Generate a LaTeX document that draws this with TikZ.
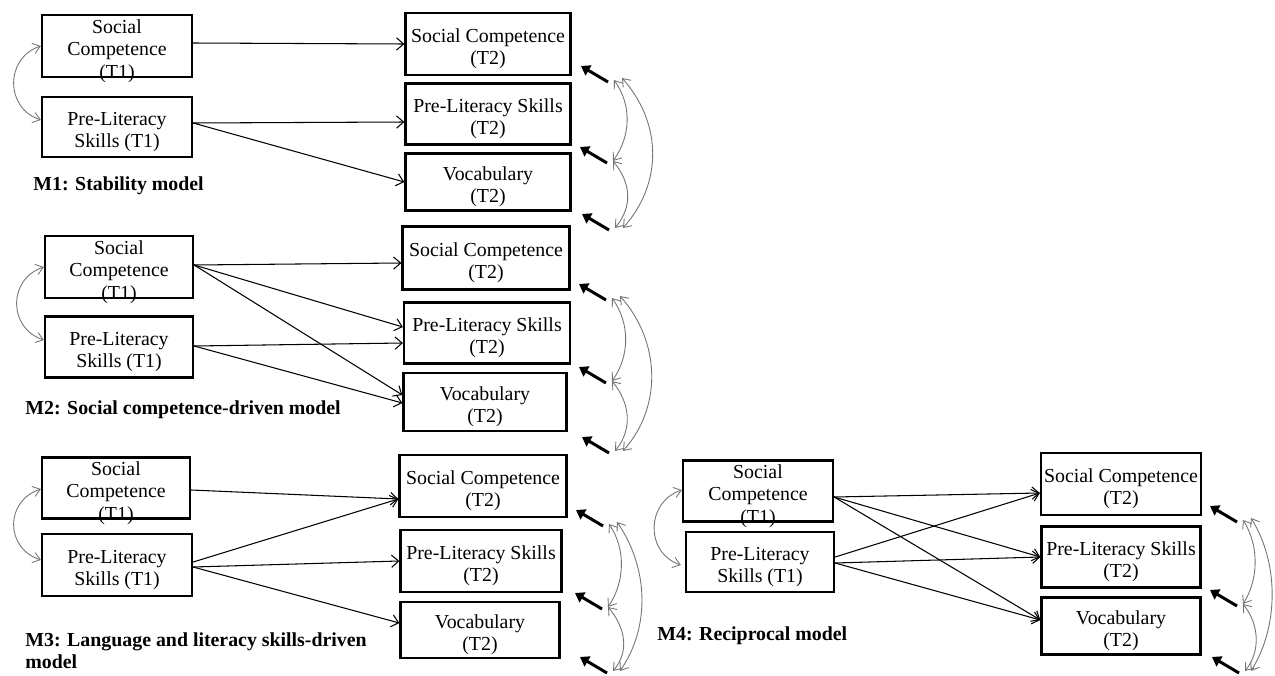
\documentclass[tikz,border=0pt]{standalone}
\usepackage{fontspec}
\setmainfont{Liberation Serif}
\usetikzlibrary{arrows.meta,calc}
\tikzset{txt/.style={align=center, inner sep=0pt, yshift=-0.1cm, font=\fontsize{11.3}{12.7}\selectfont},
  var/.style n args={3}{draw, line width=1.3pt, inner sep=0pt, minimum width=#1*0.02cm, minimum height=#2*0.02cm, label={[txt]center:#3}},
  eff/.style={line width=0.6pt, -{Straight Barb[length=4pt,width=7pt]}},
  cov/.style={black!55, line width=0.5pt, {Straight Barb[length=4pt,width=6pt]}-{Straight Barb[length=4pt,width=6pt]}},
  res/.style={line width=1.7pt, -{Triangle[length=5pt,width=6.5pt]}},
  model/.style={anchor=west, inner sep=0pt, align=left, font=\bfseries\fontsize{11.3}{12.5}\selectfont}}
\begin{document}
\begin{tikzpicture}[x=0.02cm, y=-0.02cm]
   \useasboundingbox (0,0) rectangle (1275,676);
   \begin{scope}
    \node[var={150}{62}{Social\\Competence\\(T1)}] (m1sc1) at (117,46) {};
    \node[var={150}{60}{Pre-Literacy\\Skills (T1)}] (m1pl1) at (117,127) {};
    \node[var={165}{62}{Social Competence\\(T2)}] (m1sc2) at (488,44) {};
    \node[var={165}{61}{Pre-Literacy Skills\\(T2)}] (m1pl2) at (488,114) {};
    \node[var={165}{57}{Vocabulary\\(T2)}] (m1vo2) at (488,182) {};
    \node[model] (m1) at (33,186) {M1: Stability model};
    \draw[eff] ($(m1sc1.east)+(0,-3)$) -- (m1sc2.west);
    \draw[eff] ($(m1pl1.east)+(0,-4)$) -- ($(m1pl2.west)+(0,8)$);
    \draw[eff] ($(m1pl1.east)+(0,-4)$) -- (m1vo2.west);
    \draw[cov] (m1sc1.west) .. controls +(-36,12) and +(-36,-12) .. ($(m1pl1.west)+(0,-7)$);
    \coordinate (m1e1) at (614,80);
    \coordinate (m1e2) at (613,161);
    \coordinate (m1e3) at (615,228);
    \draw[res] ($(m1e1)+(-6,2)$) -- +(-27,-16);
    \draw[res] ($(m1e2)+(-6,2)$) -- +(-27,-16);
    \draw[res] ($(m1e3)+(-6,2)$) -- +(-27,-16);
    \draw[cov] (m1e1) .. controls +(18,25) and +(18,-25) .. (m1e2);
    \draw[cov] (m1e2) .. controls +(18,22) and +(18,-22) .. (m1e3);
    \draw[cov] ($(m1e1)+(8,-2)$) .. controls +(40,45) and +(40,-45) .. ($(m1e3)+(8,0)$);
   \end{scope}
   \begin{scope}
    \node[var={148}{62}{Social\\Competence\\(T1)}] (m2sc1) at (119,267) {};
    \node[var={148}{61}{Pre-Literacy\\Skills (T1)}] (m2pl1) at (119,347) {};
    \node[var={167}{63}{Social Competence\\(T2)}] (m2sc2) at (486,258) {};
    \node[var={166}{61}{Pre-Literacy Skills\\(T2)}] (m2pl2) at (487,333) {};
    \node[var={163}{58}{Vocabulary\\(T2)}] (m2vo2) at (485,402) {};
    \node[model] (m2) at (25,410) {M2: Social competence-driven model};
    \draw[eff] ($(m2sc1.east)+(0,-2)$) -- ($(m2sc2.west)+(0,5)$);
    \draw[eff] ($(m2sc1.east)+(0,-2)$) -- ($(m2pl2.west)+(0,-6)$);
    \draw[eff] ($(m2sc1.east)+(0,-2)$) -- ($(m2vo2.west)+(0,-7)$);
    \draw[eff] ($(m2pl1.east)+(0,-1)$) -- ($(m2pl2.west)+(0,10)$);
    \draw[eff] ($(m2pl1.east)+(0,-1)$) -- ($(m2vo2.west)+(0,1)$);
    \draw[cov] (m2sc1.west) .. controls +(-36,12) and +(-36,-12) .. ($(m2pl1.west)+(0,-7)$);
    \coordinate (m2e1) at (612,298);
    \coordinate (m2e2) at (612,381);
    \coordinate (m2e3) at (615,451);
    \draw[res] ($(m2e1)+(-6,2)$) -- +(-27,-16);
    \draw[res] ($(m2e2)+(-6,2)$) -- +(-27,-16);
    \draw[res] ($(m2e3)+(-6,2)$) -- +(-27,-16);
    \draw[cov] (m2e1) .. controls +(18,25) and +(18,-25) .. (m2e2);
    \draw[cov] (m2e2) .. controls +(18,22) and +(18,-22) .. (m2e3);
    \draw[cov] ($(m2e1)+(8,-2)$) .. controls +(40,45) and +(40,-45) .. ($(m2e3)+(8,0)$);
   \end{scope}
   \begin{scope}
    \node[var={148}{61}{Social\\Competence\\(T1)}] (m3sc1) at (116,488) {};
    \node[var={150}{62}{Pre-Literacy\\Skills (T1)}] (m3pl1) at (117,565) {};
    \node[var={167}{62}{Social Competence\\(T2)}] (m3sc2) at (483,486) {};
    \node[var={161}{62}{Pre-Literacy Skills\\(T2)}] (m3pl2) at (481,561) {};
    \node[var={159}{56}{Vocabulary\\(T2)}] (m3vo2) at (480,630) {};
    \node[model] (m3) at (25,651) {M3: Language and literacy skills-driven\\model};
    \draw[eff] ($(m3sc1.east)+(0,2)$) -- ($(m3sc2.west)+(0,13)$);
    \draw[eff] ($(m3pl1.east)+(0,-3)$) -- ($(m3sc2.west)+(0,13)$);
    \draw[eff] ($(m3pl1.east)+(0,2)$) -- (m3pl2.west);
    \draw[eff] ($(m3pl1.east)+(0,2)$) -- ($(m3vo2.west)+(0,-7)$);
    \draw[cov] ($(m3sc1.west)+(0,1)$) .. controls +(-36,12) and +(-36,-12) .. ($(m3pl1.west)+(0,-5)$);
    \coordinate (m3e1) at (609,524);
    \coordinate (m3e2) at (608,607);
    \coordinate (m3e3) at (613,671);
    \draw[res] ($(m3e1)+(-6,2)$) -- +(-27,-16);
    \draw[res] ($(m3e2)+(-6,2)$) -- +(-27,-16);
    \draw[res] ($(m3e3)+(-6,2)$) -- +(-27,-16);
    \draw[cov] (m3e1) .. controls +(17,25) and +(17,-25) .. (m3e2);
    \draw[cov] (m3e2) .. controls +(17,20) and +(17,-20) .. (m3e3);
    \draw[cov] ($(m3e1)+(8,-2)$) .. controls +(31,45) and +(31,-45) .. ($(m3e3)+(7,0)$);
   \end{scope}
   \begin{scope}
    \node[var={150}{61}{Social\\Competence\\(T1)}] (m4sc1) at (758,491) {};
    \node[var={148}{60}{Pre-Literacy\\Skills (T1)}] (m4pl1) at (760,562) {};
    \node[var={160}{62}{Social Competence\\(T2)}] (m4sc2) at (1121,484) {};
    \node[var={159}{61}{Pre-Literacy Skills\\(T2)}] (m4pl2) at (1121,557) {};
    \node[var={159}{57}{Vocabulary\\(T2)}] (m4vo2) at (1121,626) {};
    \node[model] (m4) at (657,636) {M4: Reciprocal model};
    \draw[eff] ($(m4sc1.east)+(0,6)$) -- ($(m4sc2.west)+(0,9)$);
    \draw[eff] ($(m4sc1.east)+(0,6)$) -- (m4pl2.west);
    \draw[eff] ($(m4sc1.east)+(0,6)$) -- ($(m4vo2.west)+(0,-6)$);
    \draw[eff] ($(m4pl1.east)+(0,-5)$) -- ($(m4sc2.west)+(0,9)$);
    \draw[eff] ($(m4pl1.east)+(0,1)$) -- (m4pl2.west);
    \draw[eff] ($(m4pl1.east)+(0,1)$) -- ($(m4vo2.west)+(0,-6)$);
    \draw[cov] ($(m4sc1.west)+(0,-1)$) .. controls +(-36,12) and +(-36,-12) .. ($(m4pl1.west)+(-4,3)$);
    \coordinate (m4e1) at (1243,520);
    \coordinate (m4e2) at (1243,604);
    \coordinate (m4e3) at (1245,671);
    \draw[res] ($(m4e1)+(-6,2)$) -- +(-27,-16);
    \draw[res] ($(m4e2)+(-6,2)$) -- +(-27,-16);
    \draw[res] ($(m4e3)+(-6,2)$) -- +(-27,-16);
    \draw[cov] (m4e1) .. controls +(16,25) and +(16,-25) .. (m4e2);
    \draw[cov] (m4e2) .. controls +(16,20) and +(16,-20) .. (m4e3);
    \draw[cov] ($(m4e1)+(8,-2)$) .. controls +(28,45) and +(28,-45) .. ($(m4e3)+(6,0)$);
   \end{scope}
  \end{tikzpicture}
\end{document}
